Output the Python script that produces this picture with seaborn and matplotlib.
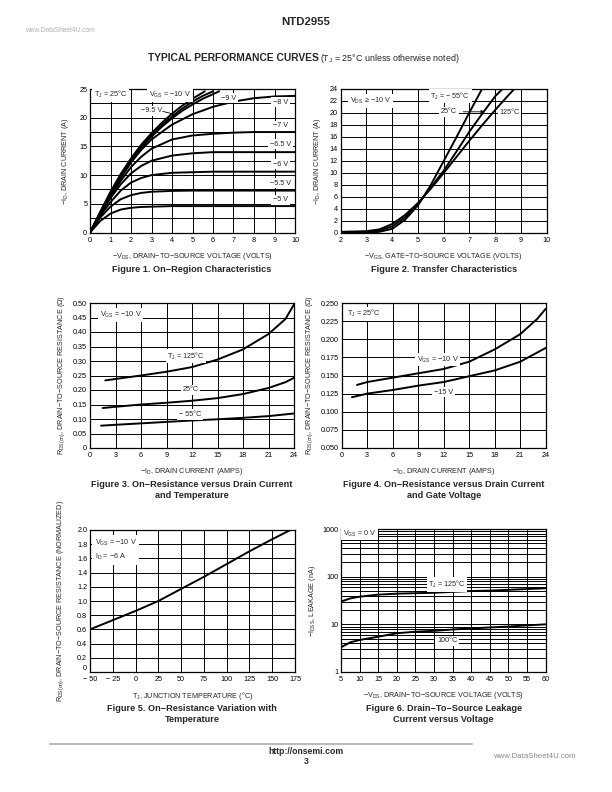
import numpy as np
import pandas as pd
import seaborn as sns
import matplotlib.pyplot as plt
from matplotlib.ticker import LogLocator, NullFormatter

# ---- Figure 1: on-region characteristics (-ID vs -VDS) ----
vds_full = [0, 0.5, 1, 1.5, 2, 2.5, 3, 4, 5, 6, 7, 8, 9, 10]
id_vgs_5 = [0, 2.0, 3.3, 4.0, 4.3, 4.45, 4.5, 4.6, 4.6, 4.6, 4.6, 4.6, 4.6, 4.6]
id_vgs_55 = [0, 2.6, 4.5, 5.8, 6.5, 6.9, 7.1, 7.25, 7.3, 7.3, 7.3, 7.3, 7.3, 7.3]
id_vgs_6 = [0, 2.9, 5.3, 7.3, 8.7, 9.5, 10.0, 10.4, 10.5, 10.6, 10.6, 10.6, 10.6, 10.6]
id_vgs_65 = [0, 3.1, 6.0, 8.4, 10.3, 11.6, 12.5, 13.4, 13.8, 14.0, 14.0, 14.0, 14.0, 14.0]
id_vgs_7 = [0, 3.2, 6.3, 9.0, 11.4, 13.2, 14.6, 16.2, 16.9, 17.2, 17.4, 17.5, 17.5, 17.5]
id_vgs_8 = [0, 3.3, 6.5, 9.5, 12.2, 14.4, 16.2, 18.8, 20.6, 21.9, 22.8, 23.4, 23.7, 23.8]
vds_9 = [0, 0.5, 1, 1.5, 2, 2.5, 3, 3.5, 4, 4.5, 5, 5.5, 6, 6.3]
id_vgs_9 = [0, 3.4, 6.7, 9.7, 12.4, 14.7, 16.7, 18.4, 19.9, 21.2, 22.3, 23.3, 24.1, 24.6]
vds_95 = [0, 0.5, 1, 1.5, 2, 2.5, 3, 3.5, 4, 4.5, 5, 5.5, 6.0]
id_vgs_95 = [0, 3.5, 6.9, 10.0, 12.7, 15.0, 17.0, 18.7, 20.2, 21.6, 22.8, 23.8, 24.6]
vds_10 = [0, 0.5, 1, 1.5, 2, 2.5, 3, 3.5, 4, 4.5, 5, 5.6]
id_vgs_10 = [0, 3.6, 7.1, 10.2, 12.9, 15.3, 17.3, 19.1, 20.7, 22.1, 23.3, 24.6]

# ---- Figure 2: transfer characteristics (-ID vs -VGS) ----
vgs_m55 = [2, 3, 3.5, 4, 4.5, 5, 5.5, 6, 6.5, 7, 7.55]
id_m55 = [0, 0, 0.2, 0.7, 2.2, 4.6, 8.0, 12.0, 16.0, 20.1, 24.5]
vgs_25 = [2, 3, 3.5, 4, 4.5, 5, 5.5, 6, 6.5, 7, 7.5, 8, 8.4]
id_25 = [0.1, 0.2, 0.4, 1.1, 2.6, 4.8, 7.6, 10.4, 13.6, 16.9, 19.9, 22.8, 24.5]
vgs_125 = [2, 3, 3.5, 4, 4.5, 5, 5.5, 6, 6.5, 7, 7.5, 8, 8.5, 8.85]
id_125 = [0.2, 0.3, 0.6, 1.5, 3.0, 5.0, 7.4, 10.0, 12.7, 15.4, 18.0, 20.5, 22.9, 24.5]

# ---- Figure 3: RDS(on) vs ID and temperature ----
id_125c = [1.8, 3, 6, 9, 12, 15, 18, 21, 23, 24]
rds_125c = [0.233, 0.238, 0.250, 0.263, 0.279, 0.305, 0.340, 0.393, 0.445, 0.495]
id_25c = [1.5, 3, 6, 9, 12, 15, 18, 21, 23, 24]
rds_25c = [0.138, 0.142, 0.150, 0.156, 0.163, 0.172, 0.186, 0.207, 0.227, 0.242]
id_m55c = [1.3, 3, 6, 9, 12, 15, 18, 21, 24]
rds_m55c = [0.077, 0.080, 0.085, 0.090, 0.095, 0.099, 0.104, 0.110, 0.119]

# ---- Figure 4: RDS(on) vs ID and gate voltage ----
id_10v = [1.8, 3, 6, 9, 12, 15, 18, 21, 23, 24]
rds_10v = [0.137, 0.141, 0.147, 0.153, 0.159, 0.169, 0.186, 0.207, 0.228, 0.242]
id_15v = [1.2, 3, 6, 9, 12, 15, 18, 21, 24]
rds_15v = [0.120, 0.125, 0.130, 0.136, 0.141, 0.149, 0.157, 0.169, 0.188]

# ---- Figure 5: normalized RDS(on) vs temperature ----
tj = [-50, -25, 0, 25, 50, 75, 100, 125, 150, 170]
rds_norm = [0.60, 0.73, 0.86, 1.00, 1.17, 1.34, 1.52, 1.70, 1.87, 2.00]

# ---- Figure 6: leakage vs VDS ----
vds_leak = [5, 7.5, 10, 15, 20, 25, 30, 35, 40, 45, 50, 55, 60]
idss_125 = [30, 35, 38, 42, 44, 45, 46, 48, 50, 51, 53, 55, 57]
idss_100 = [3.3, 4.2, 4.7, 5.5, 6.5, 7.0, 7.3, 7.8, 8.2, 8.6, 9.0, 9.5, 10.0]

sns.set_theme(style="white")
plt.rcParams["font.family"] = ["Liberation Sans", "DejaVu Sans"]
plt.rcParams["mathtext.fontset"] = "custom"
plt.rcParams["mathtext.rm"] = "Liberation Sans"
plt.rcParams["mathtext.default"] = "regular"

W, H = 612, 792
fig = plt.figure(figsize=(W / 100, H / 100), dpi=100)

TICK_FS = 5.2
LABEL_FS = 5.2
NOTE_FS = 5.2
CAP_FS = 6.6


def make_axes(left, top, right, bottom):
    return fig.add_axes([left / W, 1 - bottom / H, (right - left) / W, (bottom - top) / H])


def style_axes(ax, xticks, xlabels, yticks, ylabels, xminor=None, yminor=None):
    ax.set_xticks(xticks)
    ax.set_xticklabels(xlabels)
    ax.set_yticks(yticks)
    ax.set_yticklabels(ylabels)
    if xminor is not None:
        ax.set_xticks(xminor, minor=True)
    if yminor is not None:
        ax.set_yticks(yminor, minor=True)
    ax.grid(True, which="both", color="black", lw=0.7)
    ax.tick_params(which="both", length=0, labelsize=TICK_FS, pad=2, colors="black")
    ax.tick_params(axis="x", pad=3)
    for s in ax.spines.values():
        s.set_color("black")
        s.set_linewidth(0.9)
    ax.set_axisbelow(True)


def curve(ax, x, y):
    sns.lineplot(x=x, y=y, ax=ax, color="black", lw=1.4, estimator=None, sort=False)


def note(ax, x, y, s, ha="center"):
    ax.text(x, y, s, ha=ha, va="center", fontsize=NOTE_FS, zorder=5,
            bbox=dict(fc="white", ec="none", pad=1.2))


def caption(xc, y, s):
    fig.text(xc / W, 1 - y / H, s, ha="center", va="center", fontsize=CAP_FS,
             fontweight="bold", linespacing=1.25)


# Figure 1
ax1 = make_axes(90, 89, 295, 232.5)
for x, y in [(vds_full, id_vgs_5), (vds_full, id_vgs_55), (vds_full, id_vgs_6),
             (vds_full, id_vgs_65), (vds_full, id_vgs_7), (vds_full, id_vgs_8),
             (vds_9, id_vgs_9), (vds_95, id_vgs_95), (vds_10, id_vgs_10)]:
    curve(ax1, x, y)
ax1.set_xlim(0, 10)
ax1.set_ylim(0, 25)
style_axes(ax1, range(0, 11), [str(i) for i in range(11)], range(0, 26, 5),
           [str(i) for i in range(0, 26, 5)], yminor=np.arange(2.5, 25, 5))
note(ax1, 1.0, 24.0, "T$_J$ = 25°C")
note(ax1, 3.9, 24.0, "V$_{GS}$ = −10 V")
note(ax1, 3.0, 21.2, "−9.5 V")
ax1.plot([3.55, 4.1], [21.1, 20.6], color="black", lw=0.6, zorder=6)
note(ax1, 6.75, 23.4, "−9 V")
for yy, s in [(22.7, "−8 V"), (18.6, "−7 V"), (15.4, "−6.5 V"), (11.9, "−6 V"),
              (8.6, "−5.5 V"), (5.7, "−5 V")]:
    note(ax1, 9.3, yy, s)
ax1.set_xlabel("−V$_{DS}$, DRAIN−TO−SOURCE VOLTAGE (VOLTS)", fontsize=LABEL_FS, labelpad=5)
ax1.set_ylabel("−I$_D$, DRAIN CURRENT (A)", fontsize=LABEL_FS)
ax1.yaxis.set_label_coords(-0.095, 0.5)
caption(192, 270, "Figure 1. On−Region Characteristics")

# Figure 2
ax2 = make_axes(340.7, 89, 546.7, 233)
for x, y in [(vgs_m55, id_m55), (vgs_25, id_25), (vgs_125, id_125)]:
    curve(ax2, x, y)
ax2.set_xlim(2, 10)
ax2.set_ylim(0, 24)
style_axes(ax2, range(2, 11), [str(i) for i in range(2, 11)], range(0, 25, 2),
           [str(i) for i in range(0, 25, 2)])
note(ax2, 3.15, 22.0, "V$_{DS}$ ≥ −10 V")
note(ax2, 6.25, 22.8, "T$_J$ = − 55°C")
note(ax2, 6.2, 20.2, "25°C")
ax2.annotate("", xy=(7.7, 20.2), xytext=(6.65, 20.2), zorder=6,
             arrowprops=dict(arrowstyle="-|>", color="black", lw=0.6, mutation_scale=5))
note(ax2, 8.55, 20.0, "125°C")
ax2.set_xlabel("−V$_{GS}$, GATE−TO−SOURCE VOLTAGE (VOLTS)", fontsize=LABEL_FS, labelpad=5)
ax2.set_ylabel("−I$_D$, DRAIN CURRENT (A)", fontsize=LABEL_FS)
ax2.yaxis.set_label_coords(-0.085, 0.5)
caption(443.7, 270, "Figure 2. Transfer Characteristics")

# Figure 3
ax3 = make_axes(90, 303, 294, 448)
for x, y in [(id_125c, rds_125c), (id_25c, rds_25c), (id_m55c, rds_m55c)]:
    curve(ax3, x, y)
ax3.set_xlim(0, 24)
ax3.set_ylim(0, 0.5)
yt3 = [round(0.05 * i, 2) for i in range(11)]
style_axes(ax3, range(0, 25, 3), [str(i) for i in range(0, 25, 3)], yt3,
           ["0"] + [f"{v:.2f}" for v in yt3[1:]])
note(ax3, 3.6, 0.458, "V$_{GS}$ = −10 V")
note(ax3, 11.3, 0.317, "T$_J$ = 125°C")
note(ax3, 11.8, 0.201, "25°C")
note(ax3, 11.8, 0.115, "− 55°C")
ax3.set_xlabel("−I$_D$, DRAIN CURRENT (AMPS)", fontsize=LABEL_FS, labelpad=5)
ax3.set_ylabel("R$_{DS(on)}$, DRAIN−TO−SOURCE RESISTANCE (Ω)", fontsize=LABEL_FS)
ax3.yaxis.set_label_coords(-0.115, 0.5)
caption(192, 490, "Figure 3. On−Resistance versus Drain Current\nand Temperature")

# Figure 4
ax4 = make_axes(341.7, 303, 545.7, 448)
for x, y in [(id_10v, rds_10v), (id_15v, rds_15v)]:
    curve(ax4, x, y)
ax4.set_xlim(0, 24)
ax4.set_ylim(0.05, 0.25)
yt4 = [round(0.05 + 0.025 * i, 3) for i in range(9)]
style_axes(ax4, range(0, 25, 3), [str(i) for i in range(0, 25, 3)], yt4,
           [f"{v:.3f}" for v in yt4])
note(ax4, 2.6, 0.235, "T$_J$ = 25°C")
note(ax4, 11.3, 0.172, "V$_{GS}$ = −10 V")
note(ax4, 12.0, 0.127, "−15 V")
ax4.set_xlabel("−I$_D$, DRAIN CURRENT (AMPS)", fontsize=LABEL_FS, labelpad=5)
ax4.set_ylabel("R$_{DS(on)}$, DRAIN−TO−SOURCE RESISTANCE (Ω)", fontsize=LABEL_FS)
ax4.yaxis.set_label_coords(-0.13, 0.5)
caption(443.7, 490, "Figure 4. On−Resistance versus Drain Current\nand Gate Voltage")

# Figure 5
ax5 = make_axes(90, 530, 295, 672)
curve(ax5, tj, rds_norm)
ax5.set_xlim(-50, 175)
ax5.set_ylim(0, 2.0)
yt5 = [round(0.2 * i, 1) for i in range(11)]
style_axes(ax5, range(-50, 176, 25),
           ["− 50", "− 25"] + [str(i) for i in range(0, 176, 25)],
           yt5, ["0"] + [f"{v:.1f}" for v in yt5[1:]])
ax5.get_yticklabels()[0].set_va("bottom")
ax5.text(-45, 1.72, "V$_{GS}$ = −10 V\nI$_D$ = −6 A", ha="left", va="center",
         fontsize=NOTE_FS, zorder=5, linespacing=1.5,
         bbox=dict(fc="white", ec="none", pad=2))
ax5.set_xlabel("T$_J$, JUNCTION TEMPERATURE (°C)", fontsize=LABEL_FS, labelpad=5)
ax5.set_ylabel("R$_{DS(on)}$, DRAIN−TO−SOURCE RESISTANCE (NORMALIZED)", fontsize=LABEL_FS)
ax5.yaxis.set_label_coords(-0.115, 0.5)
caption(192, 714, "Figure 5. On−Resistance Variation with\nTemperature")

# Figure 6
ax6 = make_axes(341, 529, 545.7, 672)
for y in [idss_125, idss_100]:
    curve(ax6, vds_leak, y)
ax6.set_xlim(5, 60)
ax6.set_yscale("log")
ax6.set_ylim(1, 1000)
style_axes(ax6, range(5, 61, 5), [str(i) for i in range(5, 61, 5)],
           [1, 10, 100, 1000], ["1", "10", "100", "1000"])
ax6.yaxis.set_minor_locator(LogLocator(base=10, subs=np.arange(2, 10)))
ax6.yaxis.set_minor_formatter(NullFormatter())
ax6.grid(True, which="minor", axis="y", color="black", lw=0.7)
ax6.tick_params(which="both", length=0)
note(ax6, 10.0, 800, "V$_{GS}$ = 0 V")
note(ax6, 33.5, 68, "T$_J$ = 125°C")
note(ax6, 33.5, 4.5, "100°C")
ax6.set_xlabel("−V$_{DS}$, DRAIN−TO−SOURCE VOLTAGE (VOLTS)", fontsize=LABEL_FS, labelpad=5)
ax6.set_ylabel("−I$_{DSS}$, LEAKAGE (nA)", fontsize=LABEL_FS)
ax6.yaxis.set_label_coords(-0.11, 0.5)
caption(443.7, 714, "Figure 6. Drain−To−Source Leakage\nCurrent versus Voltage")

# page header / footer
fig.text(306 / W, 1 - 22 / H, "NTD2955", ha="center", va="center", fontsize=8.2, fontweight="bold")
fig.text(25 / W, 1 - 31 / H, "www.DataSheet4U.com", ha="left", va="center", fontsize=4.8, color="#b0b0b0")
fig.text(319 / W, 1 - 58 / H, "TYPICAL PERFORMANCE CURVES", ha="right", va="center",
         fontsize=7.4, fontweight="bold")
fig.text(320 / W, 1 - 58.5 / H, "(T$_J$ = 25°C unless otherwise noted)", ha="left", va="center",
         fontsize=6.4)
fig.add_artist(plt.Line2D([50 / W, 472 / W], [1 - 744 / H, 1 - 744 / H], color="#bbbbbb", lw=1.5))
fig.text(306 / W, 1 - 752 / H, "http://onsemi.com", ha="center", va="center", fontsize=6.2, fontweight="bold")
fig.text(306 / W, 1 - 762 / H, "3", ha="center", va="center", fontsize=6.2, fontweight="bold")
fig.text(534 / W, 1 - 756 / H, "www.DataSheet4U.com", ha="center", va="center", fontsize=5.6, color="#888888")

fig.savefig("out.png", dpi=100)
